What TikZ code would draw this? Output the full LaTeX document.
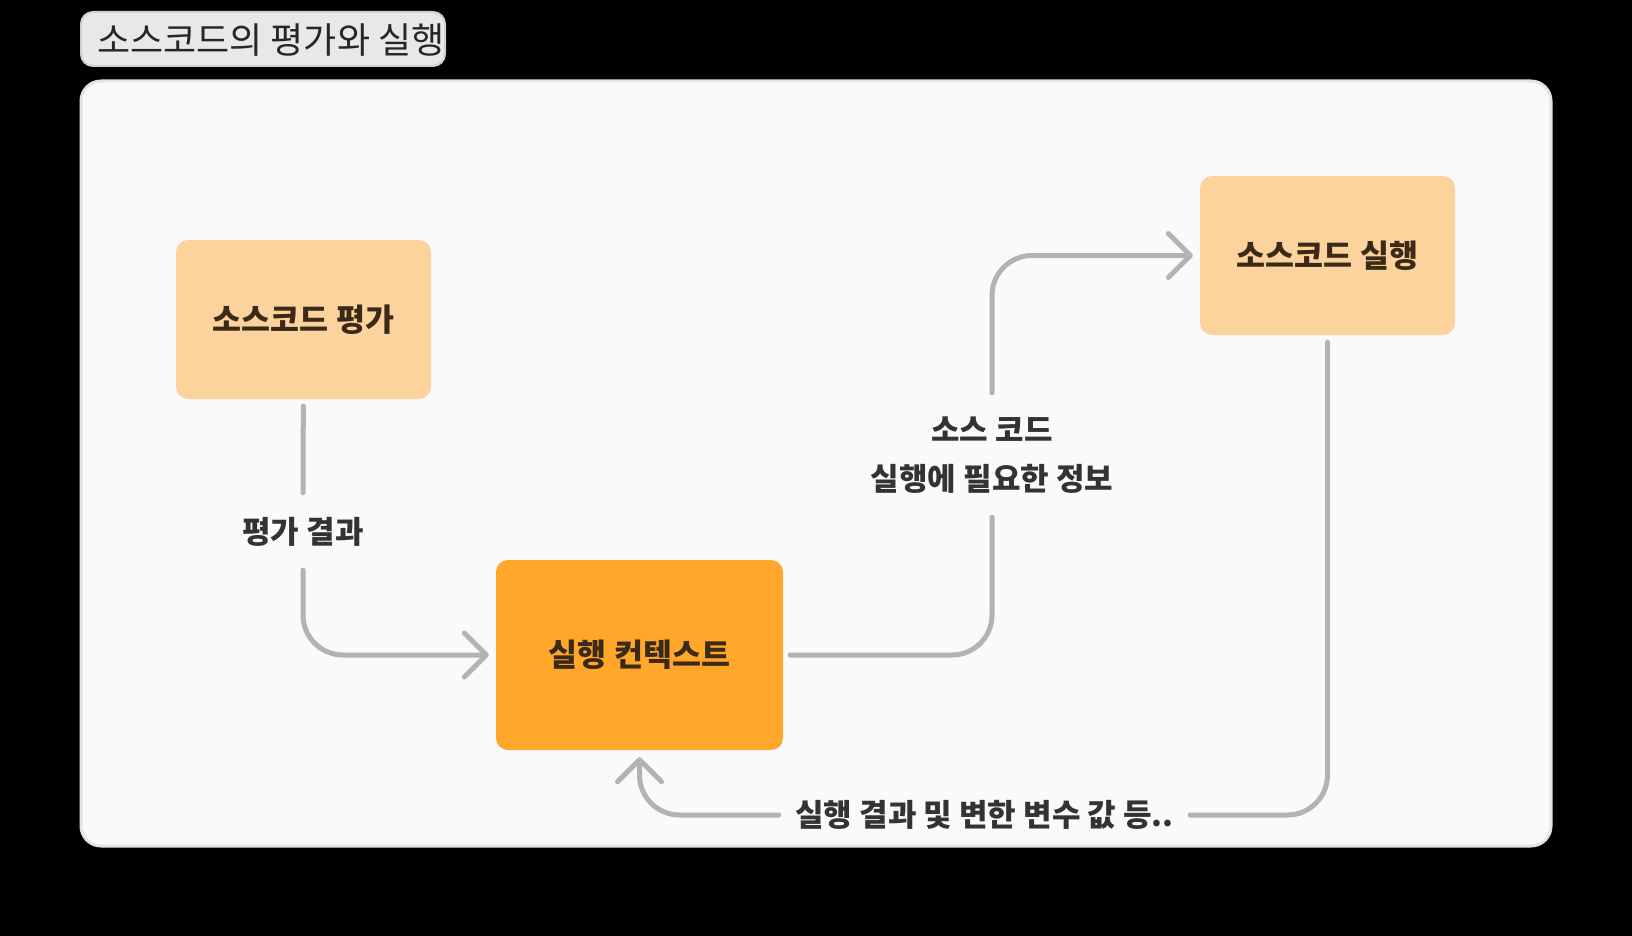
\documentclass[tikz,border=0pt]{standalone}
\usepackage{fontspec}
\setmainfont{Noto Sans CJK KR}
\usetikzlibrary{arrows.meta}
\definecolor{panelfill}{HTML}{FAFAFA}
\definecolor{paneldraw}{HTML}{E4E4E4}
\definecolor{titlefill}{HTML}{E8E8E8}
\definecolor{titledraw}{HTML}{CFCFCF}
\definecolor{lightorange}{HTML}{FDD39D}
\definecolor{darkorange}{HTML}{FFA62B}
\definecolor{boxtext}{HTML}{3A2A17}
\definecolor{labeltext}{HTML}{333333}
\definecolor{linkgray}{HTML}{B3B3B3}

\begin{document}
\begin{tikzpicture}[x=1pt,y=-1pt,
    step box/.style ={rounded corners=12pt, minimum width=255pt, minimum height=159pt,
      fill=lightorange, text=boxtext, font=\fontsize{31.5}{38}\selectfont\bfseries},
    link label/.style ={inner sep=0pt, text=labeltext, align=center,
      font=\fontsize{31}{49}\selectfont\bfseries},
    link/.style ={draw=linkgray, line width=5pt, line cap=round, rounded corners=40pt},
    arrow/.style ={-{Straight Barb[length=22pt,width=44pt,round]}}]
   \fill[black] (0,0) rectangle (1632,936);
   % panel and title
   \draw[fill=panelfill, draw=paneldraw, line width=3pt, rounded corners=20pt] (81,81) rectangle (1551,846);
   \draw[fill=titlefill, draw=titledraw, line width=2pt, rounded corners=12pt] (81,12) rectangle (445,66);
   \node[anchor=west, inner sep=0pt, text=black!85, font=\fontsize{36}{42}\selectfont] (title) at (97,40) {소스코드의 평가와 실행};
   % steps
   \node[step box] (eval) at (303.5,319.5) {소스코드 평가};
   \node[step box, fill=darkorange, minimum width=287pt, minimum height=190pt] (ctx) at (639.5,655) {실행 컨텍스트};
   \node[step box] (exec) at (1327.5,255.5) {소스코드 실행};
   % labels on the links
   \node[link label, minimum height=77pt] (evalres) at (303,531.5) {평가 결과};
   \node[link label, minimum height=124pt] (info) at (992,455) {소스 코드\\실행에 필요한 정보};
   \node[link label, minimum width=411pt] (rets) at (984.5,815) {실행 결과 및 변한 변수 값 등..};
   % links
   \draw[link, shorten <=7pt] (eval) -- (evalres);
   \draw[link, arrow, shorten >=7pt] (evalres.south) |- (ctx.west);
   \draw[link, shorten <=7pt] (ctx.east) -| (info.south);
   \draw[link, arrow, shorten >=7pt] (info.north) |- (exec.west);
   \draw[link, shorten <=7pt] (exec.south) |- (rets.east);
   \draw[link, arrow, shorten >=7pt] (rets.west) -| (ctx.south);
 \end{tikzpicture}
\end{document}
